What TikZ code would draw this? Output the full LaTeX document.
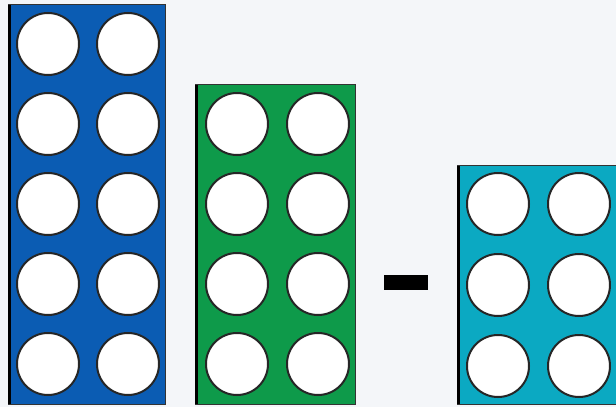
\documentclass[tikz,border=0pt]{standalone}
\definecolor{bgray}{HTML}{F4F6F9}
\definecolor{tenblue}{HTML}{0B5CB3}
\definecolor{eightgreen}{HTML}{0E9A4A}
\definecolor{sixteal}{HTML}{0BA9C2}
\tikzset{
  hole/.style={circle, draw=black!85, line width=2pt, fill=white, minimum size=62pt, inner sep=0pt},
  rod/.style={draw=black!80, line width=1pt}
}

\begin{document}
\begin{tikzpicture}[x=1pt,y=-1pt]
\useasboundingbox (0,0) rectangle (616,407);
\fill[bgray] (0,0) rectangle (616,407);
\clip (0,0) rectangle (616,407);
% ten rod
\draw[rod, fill=tenblue] (8,4) rectangle (165,404);
\draw[line width=3pt] (9,5) -- (9,404);
\foreach \r in {0,...,4} {
  \node[hole] (ten-\r-a) at (48,44+80*\r) {};
  \node[hole] (ten-\r-b) at (128,44+80*\r) {};
}
% eight rod
\draw[rod, fill=eightgreen] (195,84) rectangle (355,404);
\draw[line width=3pt] (196,85) -- (196,404);
\foreach \r in {0,...,3} {
  \node[hole] (eight-\r-a) at (237,124+80*\r) {};
  \node[hole] (eight-\r-b) at (318,124+80*\r) {};
}
% minus
\fill[black] (384,275) rectangle (428,290);
% six rod
\draw[rod, fill=sixteal] (457,165) rectangle (640,404);
\draw[line width=3pt] (458,166) -- (458,404);
\foreach \r in {0,...,2} {
  \node[hole] (six-\r-a) at (498,204+81*\r) {};
  \node[hole] (six-\r-b) at (579,204+81*\r) {};
}
\end{tikzpicture}
\end{document}
